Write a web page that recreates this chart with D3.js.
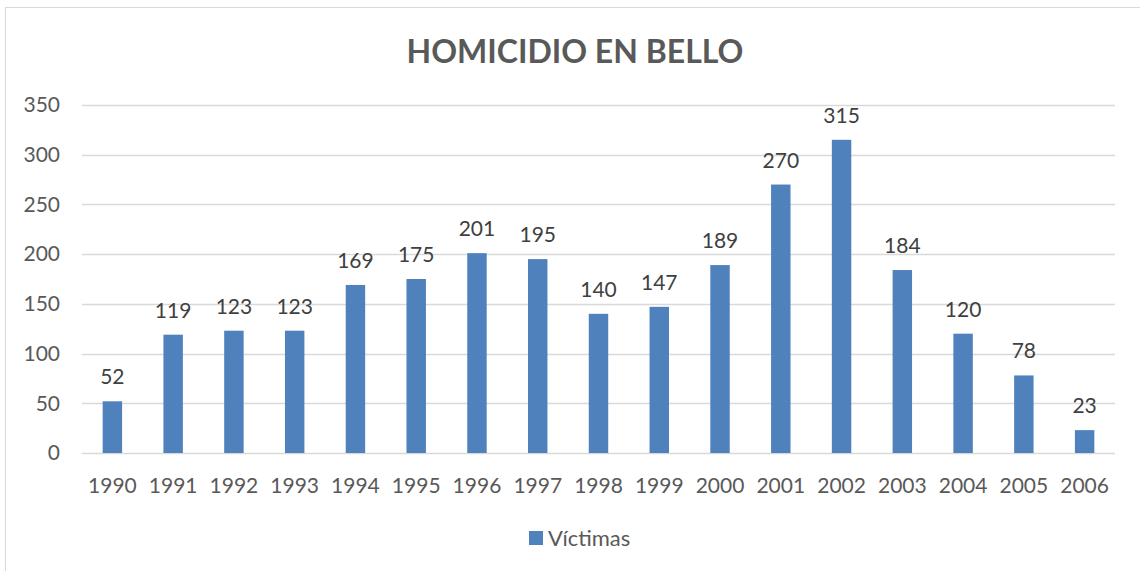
<!DOCTYPE html>
<html>
<head>
<meta charset="utf-8">
<script src="https://cdn.jsdelivr.net/npm/d3@7/dist/d3.min.js"></script>
<style>
  body { margin: 0; background: #fff; }
  svg { display: block; font-family: Lato, "Open Sans", sans-serif; }
</style>
</head>
<body>
<div id="chart"></div>
<script>
const years = ["1990", "1991", "1992", "1993", "1994", "1995", "1996", "1997", "1998",
  "1999", "2000", "2001", "2002", "2003", "2004", "2005", "2006"];
const victims = [52, 119, 123, 123, 169, 175, 201, 195, 140, 147, 189, 270, 315, 184, 120, 78, 23];
const yTicks = [0, 50, 100, 150, 200, 250, 300, 350];
const seriesName = "Víctimas";
const title = "HOMICIDIO EN BELLO";

const width = 1140, height = 571;
const margin = { top: 105, right: 25, bottom: 118, left: 82 };

const svg = d3.select("#chart").append("svg")
  .attr("width", width)
  .attr("height", height);

// chart frame
svg.append("rect")
  .attr("x", 5.5).attr("y", 7.5)
  .attr("width", 1160).attr("height", 600)
  .attr("fill", "none")
  .attr("stroke", "#d9d9d9");

const x = d3.scaleBand()
  .domain(years)
  .range([margin.left, width - margin.right])
  .paddingInner(0.68)
  .paddingOuter(0.34);

const y = d3.scaleLinear()
  .domain([0, 350])
  .range([height - margin.bottom, margin.top]);

// gridlines
svg.append("g")
  .selectAll("line")
  .data(yTicks)
  .enter().append("line")
  .attr("x1", margin.left)
  .attr("x2", width - margin.right)
  .attr("y1", d => Math.round(y(d)) + 0.5)
  .attr("y2", d => Math.round(y(d)) + 0.5)
  .attr("stroke", "#d9d9d9")
  .attr("stroke-width", 1.5);

// y axis labels
const yAxis = svg.append("g")
  .attr("transform", `translate(${margin.left - 22},0)`)
  .call(d3.axisLeft(y).tickValues(yTicks).tickSize(0).tickPadding(0));
yAxis.select(".domain").remove();
yAxis.selectAll("text")
  .attr("font-family", "Lato, 'Open Sans', sans-serif")
  .attr("font-size", 21)
  .attr("fill", "#595959");

// x axis labels
const xAxis = svg.append("g")
  .attr("transform", `translate(0,${height - margin.bottom})`)
  .call(d3.axisBottom(x).tickSize(0).tickPadding(25));
xAxis.select(".domain").remove();
xAxis.selectAll("text")
  .attr("font-family", "Lato, 'Open Sans', sans-serif")
  .attr("font-size", 21)
  .attr("fill", "#595959");

// bars
svg.append("g")
  .selectAll("rect")
  .data(years)
  .enter().append("rect")
  .attr("x", d => x(d))
  .attr("y", (d, i) => y(victims[i]))
  .attr("width", x.bandwidth())
  .attr("height", (d, i) => y(0) - y(victims[i]))
  .attr("fill", "#4f81bd");

// data labels
svg.append("g")
  .selectAll("text")
  .data(years)
  .enter().append("text")
  .attr("x", d => x(d) + x.bandwidth() / 2)
  .attr("y", (d, i) => y(victims[i]) - 17)
  .attr("text-anchor", "middle")
  .attr("font-size", 21)
  .attr("fill", "#404040")
  .text((d, i) => victims[i]);

// title
svg.append("text")
  .attr("x", 575)
  .attr("y", 63)
  .attr("text-anchor", "middle")
  .attr("font-size", 32)
  .attr("font-weight", "bold")
  .attr("fill", "#595959")
  .text(title);

// legend
const legend = svg.append("g").attr("transform", "translate(529,531)");
legend.append("rect")
  .attr("width", 14).attr("height", 14)
  .attr("fill", "#4f81bd");
legend.append("text")
  .attr("x", 19)
  .attr("y", 15)
  .attr("font-size", 22)
  .attr("fill", "#595959")
  .text(seriesName);
</script>
</body>
</html>
